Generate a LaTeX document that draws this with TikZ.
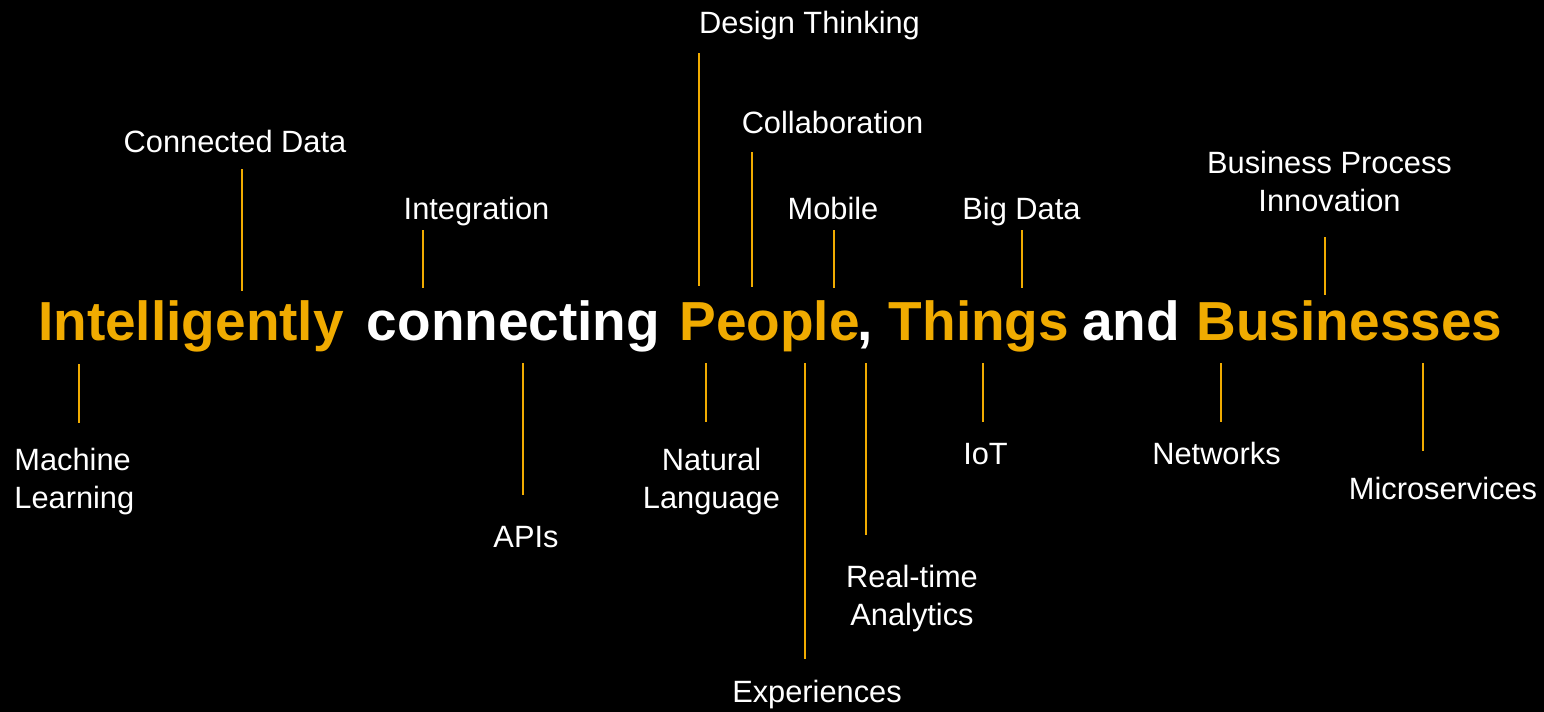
\documentclass[tikz,border=0pt]{standalone}
\usepackage{fontspec}
\setmainfont{Liberation Sans}
\definecolor{sapgold}{HTML}{F0AB00}
\tikzset{
  lbl/.style={text=white, inner sep=0pt, anchor=base, font=\fontsize{15.4}{19}\selectfont},
  word/.style={inner sep=0pt, anchor=base, font=\fontsize{27.5}{33}\selectfont\bfseries},
  gold/.style={word, text=sapgold},
  plain/.style={word, text=white},
  conn/.style={draw=sapgold, line width=1pt},
}
\begin{document}
\begin{tikzpicture}[x=0.5pt, y=-0.5pt]
\fill[black] (0,0) rectangle (1544,712);
\useasboundingbox (0,0) rectangle (1544,712);

% main sentence
\node[gold]  (intel)  at (191,340)   {Intelligently};
\node[plain] (conn)   at (513.5,340) {connecting};
\node[gold]  (people) at (769.5,340) {People};
\node[plain] (comma)  at (865,340)   {,};
\node[gold]  (things) at (979,340)   {Things};
\node[plain] (and)    at (1131,340)  {and};
\node[gold]  (bus)    at (1349.5,340){Businesses};

% labels above
\node[lbl] (lcd)  at (235,152)    {Connected Data};
\node[lbl] (lint) at (476.5,219)  {Integration};
\node[lbl] (ldt)  at (809.5,33)   {Design Thinking};
\node[lbl] (lcol) at (832.5,133)  {Collaboration};
\node[lbl] (lmob) at (833,219)    {Mobile};
\node[lbl] (lbd)  at (1021.5,219) {Big Data};
\node[lbl] (lbpi) at (1329.5,173) {\begin{tabular}[t]{@{}c@{}}Business Process\\Innovation\end{tabular}};

% labels below
\node[lbl, anchor=base west] (lml) at (14,470) {\begin{tabular}[t]{@{}l@{}}Machine\\Learning\end{tabular}};
\node[lbl] (lapi) at (526,547)   {APIs};
\node[lbl] (lnl)  at (711.5,470) {\begin{tabular}[t]{@{}c@{}}Natural\\Language\end{tabular}};
\node[lbl] (lexp) at (817,702)   {Experiences};
\node[lbl] (lrt)  at (912,587)   {\begin{tabular}[t]{@{}c@{}}Real-time\\Analytics\end{tabular}};
\node[lbl] (liot) at (985.5,464) {IoT};
\node[lbl] (lnet) at (1216.5,464){Networks};
\node[lbl] (lmic) at (1443,499)  {Microservices};

% connector end points
\coordinate (cd1) at (242,169);  \coordinate (cd2) at (242,291);
\coordinate (in1) at (423,230);  \coordinate (in2) at (423,288);
\coordinate (dt1) at (699,53);   \coordinate (dt2) at (699,286);
\coordinate (co1) at (752,152);  \coordinate (co2) at (752,287);
\coordinate (mo1) at (834,230);  \coordinate (mo2) at (834,288);
\coordinate (bd1) at (1022,230); \coordinate (bd2) at (1022,288);
\coordinate (bp1) at (1325,237); \coordinate (bp2) at (1325,295);

\coordinate (ml1) at (79,364);   \coordinate (ml2) at (79,423);
\coordinate (ap1) at (523,363);  \coordinate (ap2) at (523,495);
\coordinate (nl1) at (706,363);  \coordinate (nl2) at (706,422);
\coordinate (ex1) at (805,363);  \coordinate (ex2) at (805,659);
\coordinate (rt1) at (866,363);  \coordinate (rt2) at (866,535);
\coordinate (io1) at (983,363);  \coordinate (io2) at (983,422);
\coordinate (ne1) at (1221,363); \coordinate (ne2) at (1221,422);
\coordinate (mi1) at (1423,363); \coordinate (mi2) at (1423,451);

\foreach \a/\b in {cd1/cd2,in1/in2,dt1/dt2,co1/co2,mo1/mo2,bd1/bd2,bp1/bp2,
                   ml1/ml2,ap1/ap2,nl1/nl2,ex1/ex2,rt1/rt2,io1/io2,ne1/ne2,mi1/mi2}
  \draw[conn] (\a) -- (\b);
\end{tikzpicture}
\end{document}
